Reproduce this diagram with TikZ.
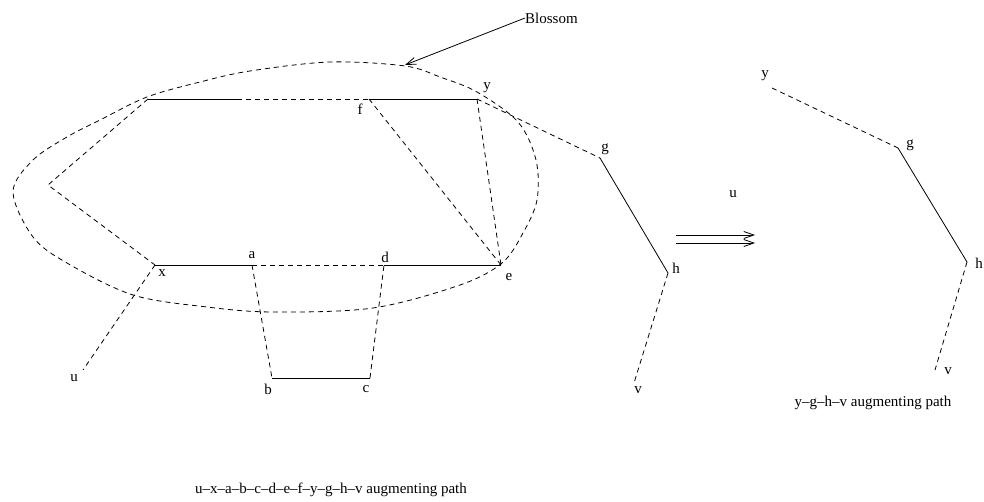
\documentclass[tikz,border=0pt]{standalone}
\usepackage{fontspec}
\setmainfont{Liberation Serif}
\usetikzlibrary{arrows.meta}
\begin{document}
\begin{tikzpicture}[x=1pt,y=-1pt,
  edge/.style={line width=0.8pt},
  dashedge/.style={line width=0.8pt,dash pattern=on 5pt off 4pt},
  lbl/.style={inner sep=0pt,font=\fontsize{15}{18}\selectfont},
  barbtip/.style={-{Straight Barb[length=10pt,width=7pt]}}]
\useasboundingbox (0,0) rectangle (984,502);

% vertices of the left graph
\coordinate (A) at (148,99);
\coordinate (M) at (237,99);
\coordinate (f) at (369,99);
\coordinate (y) at (477,99);
\coordinate (L) at (48,185);
\coordinate (x) at (155,265);
\coordinate (a) at (252,265);
\coordinate (d) at (384,265);
\coordinate (e) at (501,265);
\coordinate (b) at (272,378);
\coordinate (c) at (370,378);
\coordinate (u) at (83,370);
\coordinate (g) at (600,158);
\coordinate (h) at (668,273);
\coordinate (v) at (634,383);

% the blossom outline
\draw[dashedge] plot[smooth cycle,tension=0.55] coordinates {
  (13,192) (33,160) (67,137) (100,120) (147,97) (200,82) (250,71) (330,62)
  (405,66) (440,77) (477,92) (518,122) (536,160) (537,200) (523,233)
  (502,263) (460,285) (373,308) (273,312) (207,307) (133,295) (67,263) (33,237)};

% edges of the left graph
\draw[edge] (A) -- (M);
\draw[dashedge] (M) -- (f);
\draw[edge] (f) -- (y);
\draw[dashedge] (A) -- (L) -- (x);
\draw[edge] (x) -- (a);
\draw[dashedge] (a) -- (d);
\draw[edge] (d) -- (e);
\draw[dashedge] (a) -- (b);
\draw[edge] (b) -- (c);
\draw[dashedge] (c) -- (d);
\draw[dashedge] (x) -- (u);
\draw[dashedge] (f) -- (e);
\draw[dashedge] (y) -- (e);
\draw[dashedge] (y) -- (g);
\draw[edge] (g) -- (h);
\draw[dashedge] (h) -- (v);

% labels of the left graph
\node[lbl] (lf) at (360,109) {f};
\node[lbl] (ly) at (487,88) {y};
\node[lbl] (lg) at (605,149) {g};
\node[lbl] (lh) at (676,268) {h};
\node[lbl] (lv) at (638,390) {v};
\node[lbl] (le) at (509,277) {e};
\node[lbl] (ld) at (385,257) {d};
\node[lbl] (la) at (252,255) {a};
\node[lbl] (lx) at (162,273) {x};
\node[lbl] (lu) at (74,378) {u};
\node[lbl] (lb) at (268,389) {b};
\node[lbl] (lc) at (366,389) {c};
\node[lbl] (lu2) at (733,194) {u};

% blossom pointer
\node[lbl,anchor=west] (bl) at (525,18) {Blossom};
\coordinate (btip) at (405,65);
\draw[edge,barbtip] (bl.west) -- (btip);

% double arrow
\coordinate (p1) at (676,235);
\coordinate (q1) at (755,235);
\coordinate (p2) at (676,243);
\coordinate (q2) at (755,243);
\draw[edge,barbtip] (p1) -- (q1);
\draw[edge,barbtip] (p2) -- (q2);

% right graph
\coordinate (y2) at (772,88);
\coordinate (g2) at (898,148);
\coordinate (h2) at (967,262);
\coordinate (v2) at (935,370);
\draw[dashedge] (y2) -- (g2);
\draw[edge] (g2) -- (h2);
\draw[dashedge] (h2) -- (v2);
\node[lbl] (ly2) at (765,76) {y};
\node[lbl] (lg2) at (910,145) {g};
\node[lbl] (lh2) at (979,263) {h};
\node[lbl] (lv2) at (948,371) {v};

% captions
\node[lbl] (cap2) at (873,403) {y–g–h–v augmenting path};
\node[lbl] (cap1) at (331,490) {u–x–a–b–c–d–e–f–y–g–h–v augmenting path};
\end{tikzpicture}
\end{document}
